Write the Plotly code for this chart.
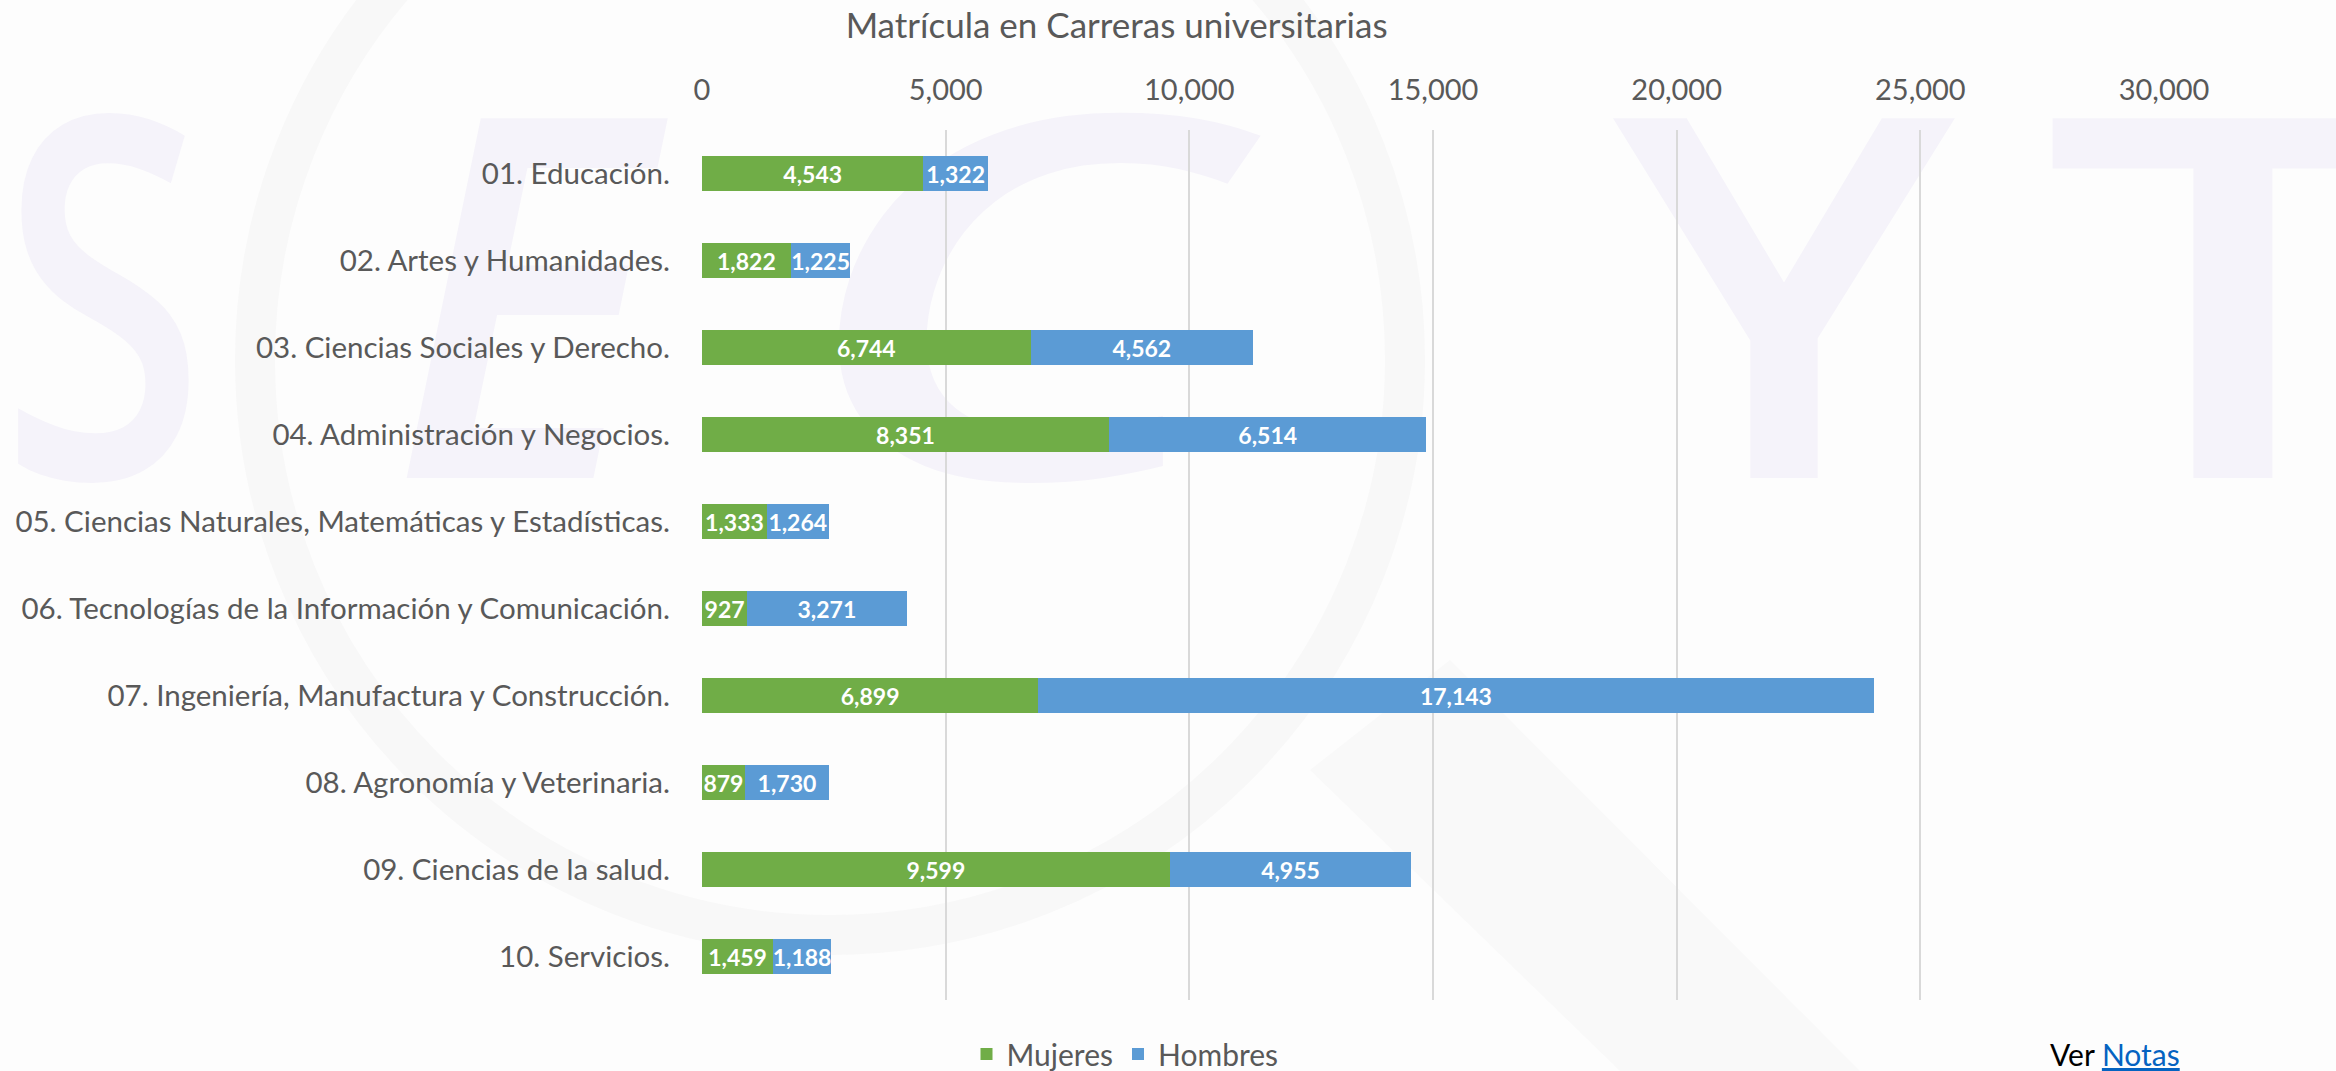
import base64
import plotly.graph_objects as go

categories = [
    "01. Educación.",
    "02. Artes y Humanidades.",
    "03. Ciencias Sociales y Derecho.",
    "04. Administración y Negocios.",
    "05. Ciencias Naturales, Matemáticas y Estadísticas.",
    "06. Tecnologías de la Información y Comunicación.",
    "07. Ingeniería, Manufactura y Construcción.",
    "08. Agronomía y Veterinaria.",
    "09. Ciencias de la salud.",
    "10. Servicios.",
]
mujeres = [4543, 1822, 6744, 8351, 1333, 927, 6899, 879, 9599, 1459]
hombres = [1322, 1225, 4562, 6514, 1264, 3271, 17143, 1730, 4955, 1188]
tick_vals = [0, 5000, 10000, 15000, 20000, 25000, 30000]

FONT = "Lato"
GRAY = "#595959"
W, H = 2336, 1071

# faint background watermark (decorative)
LAV = "#F5F3FA"
svg = f"""<svg xmlns='http://www.w3.org/2000/svg' width='{W}' height='{H}' viewBox='0 0 {W} {H}'>
<rect width='{W}' height='{H}' fill='#FDFDFD'/>
<circle cx='830' cy='360' r='575' fill='none' stroke='#F8F8F8' stroke-width='40'/>
<polygon points='1310,770 1450,660 1860,1071 1620,1071' fill='#F9F9F9'/>
<g font-family='Open Sans' font-weight='600' font-size='504' fill='{LAV}'>
<text x='0' y='478' textLength='205' lengthAdjust='spacingAndGlyphs'>S</text>
<text x='390' y='478' font-style='italic' textLength='260' lengthAdjust='spacingAndGlyphs'>E</text>
<text x='790' y='478' font-style='italic' textLength='440' lengthAdjust='spacingAndGlyphs'>C</text>
<text x='1613' y='478' textLength='342' lengthAdjust='spacingAndGlyphs'>Y</text>
<text x='2043' y='478' textLength='380' lengthAdjust='spacingAndGlyphs'>T</text>
</g>
</svg>"""
svg_uri = "data:image/svg+xml;base64," + base64.b64encode(svg.encode("utf-8")).decode("ascii")

fig = go.Figure()
for name, vals, color in [("Mujeres", mujeres, "#70AD47"), ("Hombres", hombres, "#5B9BD5")]:
    fig.add_trace(go.Bar(
        y=categories, x=vals, name=name, orientation="h",
        marker=dict(color=color, line=dict(width=0)),
        texttemplate="<b>%{x:,}</b>", textposition="inside", insidetextanchor="middle",
        textfont=dict(family=FONT, size=23, color="white"), constraintext="none",
        hoverinfo="skip",
    ))

fig.update_layout(
    width=W, height=H,
    barmode="stack", bargap=0.6,
    paper_bgcolor="#FDFDFD", plot_bgcolor="rgba(0,0,0,0)",
    margin=dict(l=702, r=172, t=130, b=71, autoexpand=False),
    font=dict(family=FONT, color=GRAY, size=30),
    uniformtext=dict(mode="show", minsize=10),
    images=[dict(source=svg_uri, xref="paper", yref="paper",
                 x=-702 / 1462, y=1 + 130 / 870, sizex=W / 1462, sizey=H / 870,
                 xanchor="left", yanchor="top", sizing="stretch", layer="below")],
    title=dict(text="Matrícula en Carreras universitarias", x=0.478, xanchor="center",
               y=1 - 26 / H, yanchor="middle", font=dict(size=35, color=GRAY, family=FONT)),
    xaxis=dict(side="top", range=[0, 30000], tickvals=tick_vals, tickformat=",",
               showgrid=True, gridcolor="#D9D9D9", gridwidth=1.5, zeroline=False,
               showline=False, ticks="", ticklabelstandoff=23, automargin=False,
               tickfont=dict(size=29, color=GRAY)),
    yaxis=dict(autorange="reversed", showgrid=False, zeroline=False, showline=False,
               ticks="", ticklabelstandoff=31, automargin=False,
               tickfont=dict(size=29.5, color=GRAY)),
    legend=dict(orientation="h", xref="container", yref="container",
                x=1125 / W, xanchor="center", y=1 - 1054 / H, yanchor="middle",
                font=dict(size=30, color=GRAY), bgcolor="rgba(0,0,0,0)",
                itemwidth=30, traceorder="normal"),
    annotations=[dict(
        text="Ver <span style='color:#0563C1'><u>Notas</u></span>",
        xref="paper", yref="paper", x=(2115 - 702) / 1462, y=-(1054 - 1000) / 870,
        xanchor="center", yanchor="middle", showarrow=False,
        font=dict(size=30, color="black", family=FONT),
    )],
)

fig.write_html("out.html", config={"displayModeBar": False},
               post_script="document.body.style.margin='0';document.body.style.overflow='hidden';")
